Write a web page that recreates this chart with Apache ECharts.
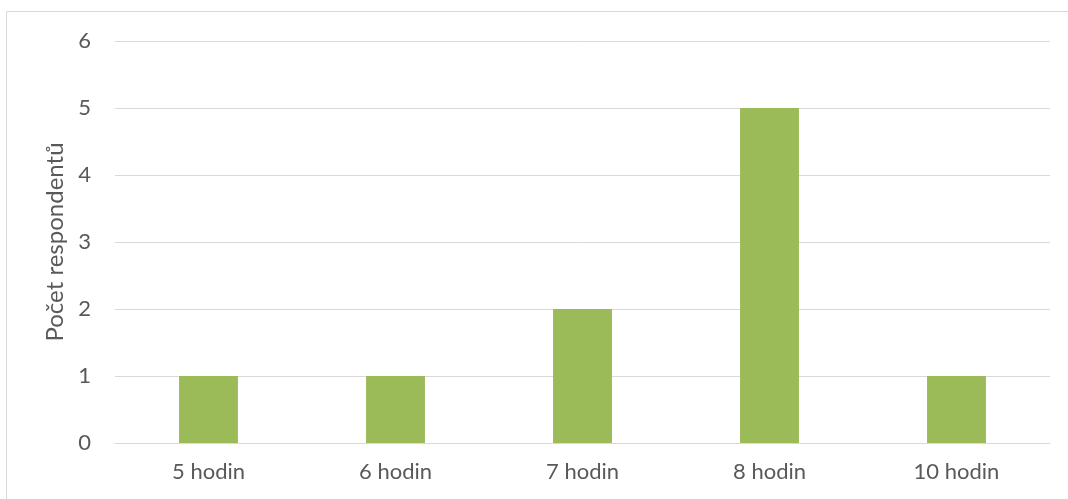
<!DOCTYPE html>
<html>
<head>
<meta charset="utf-8">
<script src="https://cdn.jsdelivr.net/npm/echarts@6/dist/echarts.min.js"></script>
<style>
  html, body { margin: 0; padding: 0; background: #fff; }
  #chart { width: 1068px; height: 499px; }
</style>
</head>
<body>
<div id="chart"></div>
<script>
// Number of respondents by hours of sleep
const categories = ['5 hodin', '6 hodin', '7 hodin', '8 hodin', '10 hodin'];
const respondents = [1, 1, 2, 5, 1];
const yAxisTitle = 'Počet respondentů';

const FONT = 'Lato, "Open Sans", sans-serif';
const TEXT = '#595959';

const chart = echarts.init(document.getElementById('chart'), null, { renderer: 'canvas' });
chart.setOption({
  animation: false,
  backgroundColor: '#fff',
  graphic: [{
    type: 'rect',
    shape: { x: 6.5, y: 11.5, width: 1200, height: 600 },
    style: { fill: 'none', stroke: '#d9d9d9', lineWidth: 1 },
    silent: true
  }],
  grid: { left: 115, right: 18, top: 41, bottom: 56, containLabel: false },
  xAxis: {
    type: 'category',
    data: categories,
    axisLine: { show: true, lineStyle: { color: '#d9d9d9', width: 1 } },
    axisTick: { show: false },
    axisLabel: { color: TEXT, fontFamily: FONT, fontSize: 22, margin: 18 }
  },
  yAxis: {
    type: 'value',
    min: 0, max: 6, interval: 1,
    name: yAxisTitle,
    nameLocation: 'middle',
    nameGap: 44,
    nameRotate: 90,
    nameTextStyle: { color: TEXT, fontFamily: FONT, fontSize: 24 },
    axisLine: { show: false },
    axisTick: { show: false },
    axisLabel: { color: TEXT, fontFamily: FONT, fontSize: 22, margin: 24 },
    splitLine: { lineStyle: { color: '#d9d9d9', width: 1 } }
  },
  series: [{
    type: 'bar',
    data: respondents,
    barWidth: '31.5%',
    itemStyle: { color: '#9bbb59' }
  }]
});
</script>
</body>
</html>
